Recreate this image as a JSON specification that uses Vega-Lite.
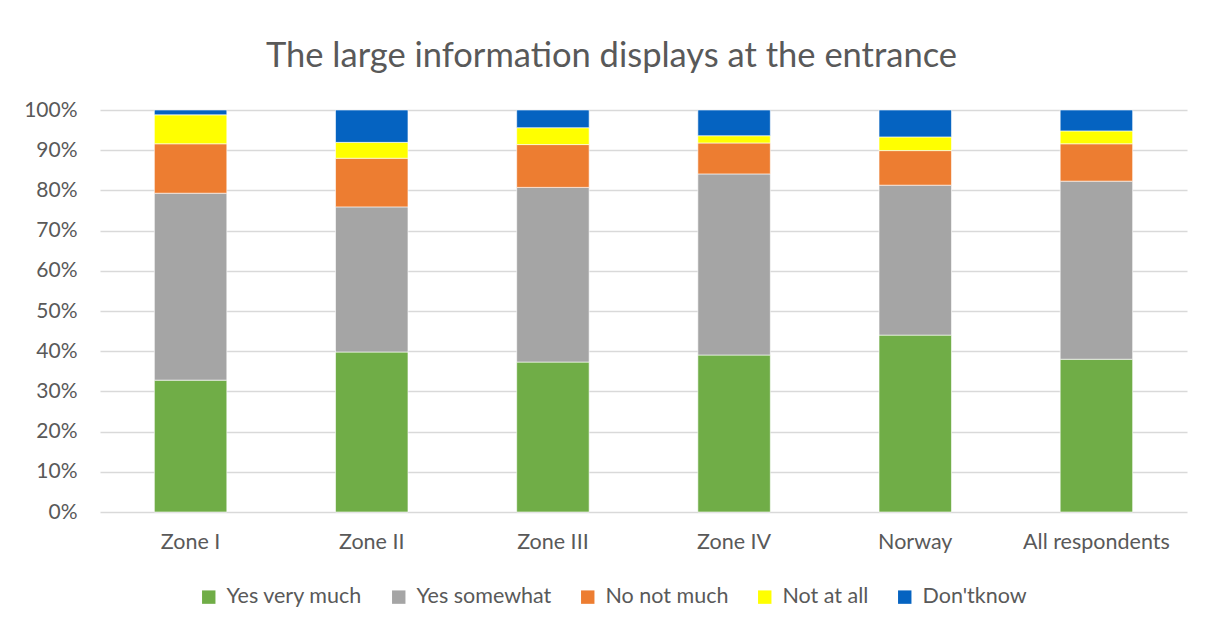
{
  "$schema": "https://vega.github.io/schema/vega-lite/v6.json",
  "width": 1087,
  "height": 402,
  "autosize": {"type": "none"},
  "padding": {"left": 100, "top": 110, "right": 19, "bottom": 116},
  "background": "white",
  "title": {
    "text": "The large information displays at the entrance",
    "fontSize": 34.5,
    "font": "Lato",
    "fontWeight": "normal",
    "color": "#595959",
    "anchor": "middle",
    "frame": "group",
    "dx": -32,
    "offset": 25
  },
  "data": {
    "values": [
      {"zone": "Zone I", "answer": "Yes very much", "o": 1, "pct": 32.8},
      {"zone": "Zone I", "answer": "Yes somewhat", "o": 2, "pct": 46.5},
      {"zone": "Zone I", "answer": "No not much", "o": 3, "pct": 12.3},
      {"zone": "Zone I", "answer": "Not at all", "o": 4, "pct": 7.2},
      {"zone": "Zone I", "answer": "Don'tknow", "o": 5, "pct": 1.2},
      {"zone": "Zone II", "answer": "Yes very much", "o": 1, "pct": 39.8},
      {"zone": "Zone II", "answer": "Yes somewhat", "o": 2, "pct": 36.1},
      {"zone": "Zone II", "answer": "No not much", "o": 3, "pct": 12.1},
      {"zone": "Zone II", "answer": "Not at all", "o": 4, "pct": 3.95},
      {"zone": "Zone II", "answer": "Don'tknow", "o": 5, "pct": 8.05},
      {"zone": "Zone III", "answer": "Yes very much", "o": 1, "pct": 37.3},
      {"zone": "Zone III", "answer": "Yes somewhat", "o": 2, "pct": 43.45},
      {"zone": "Zone III", "answer": "No not much", "o": 3, "pct": 10.65},
      {"zone": "Zone III", "answer": "Not at all", "o": 4, "pct": 4.2},
      {"zone": "Zone III", "answer": "Don'tknow", "o": 5, "pct": 4.4},
      {"zone": "Zone IV", "answer": "Yes very much", "o": 1, "pct": 39.05},
      {"zone": "Zone IV", "answer": "Yes somewhat", "o": 2, "pct": 45.05},
      {"zone": "Zone IV", "answer": "No not much", "o": 3, "pct": 7.7},
      {"zone": "Zone IV", "answer": "Not at all", "o": 4, "pct": 1.8},
      {"zone": "Zone IV", "answer": "Don'tknow", "o": 5, "pct": 6.4},
      {"zone": "Norway", "answer": "Yes very much", "o": 1, "pct": 44.0},
      {"zone": "Norway", "answer": "Yes somewhat", "o": 2, "pct": 37.3},
      {"zone": "Norway", "answer": "No not much", "o": 3, "pct": 8.6},
      {"zone": "Norway", "answer": "Not at all", "o": 4, "pct": 3.4},
      {"zone": "Norway", "answer": "Don'tknow", "o": 5, "pct": 6.7},
      {"zone": "All respondents", "answer": "Yes very much", "o": 1, "pct": 38.0},
      {"zone": "All respondents", "answer": "Yes somewhat", "o": 2, "pct": 44.3},
      {"zone": "All respondents", "answer": "No not much", "o": 3, "pct": 9.3},
      {"zone": "All respondents", "answer": "Not at all", "o": 4, "pct": 3.2},
      {"zone": "All respondents", "answer": "Don'tknow", "o": 5, "pct": 5.2}
    ]
  },
  "mark": {"type": "bar", "stroke": "white", "strokeWidth": 0.6},
  "encoding": {
    "x": {
      "field": "zone",
      "type": "nominal",
      "sort": ["Zone I", "Zone II", "Zone III", "Zone IV", "Norway", "All respondents"],
      "scale": {"paddingInner": 0.6, "paddingOuter": 0.3},
      "axis": {
        "title": null,
        "labelAngle": 0,
        "labelFont": "Lato",
        "labelFontSize": 21.5,
        "labelColor": "#595959",
        "labelPadding": 19,
        "labelOverlap": false,
        "ticks": false,
        "domain": false
      }
    },
    "y": {
      "field": "pct",
      "type": "quantitative",
      "stack": "normalize",
      "scale": {"domain": [0, 1]},
      "axis": {
        "title": null,
        "format": ".0%",
        "values": [0, 0.1, 0.2, 0.3, 0.4, 0.5, 0.6, 0.7, 0.8, 0.9, 1],
        "labelFont": "Lato",
        "labelFontSize": 21,
        "labelColor": "#595959",
        "labelPadding": 23,
        "labelOverlap": false,
        "ticks": false,
        "domain": false,
        "gridColor": "#D9D9D9",
        "gridWidth": 1.3
      }
    },
    "color": {
      "field": "answer",
      "type": "nominal",
      "sort": ["Yes very much", "Yes somewhat", "No not much", "Not at all", "Don'tknow"],
      "scale": {
        "domain": ["Yes very much", "Yes somewhat", "No not much", "Not at all", "Don'tknow"],
        "range": ["#70AD47", "#A5A5A5", "#ED7D31", "#FFFF00", "#0563C1"]
      },
      "legend": {
        "title": null,
        "orient": "none",
        "legendX": 98,
        "legendY": 476,
        "direction": "horizontal",
        "symbolType": "square",
        "symbolSize": 180,
        "symbolStrokeWidth": 0,
        "labelFont": "Lato",
        "labelFontSize": 21.5,
        "labelColor": "#595959",
        "columnPadding": 25,
        "labelOffset": 7
      }
    },
    "order": {"field": "o", "type": "quantitative", "sort": "ascending"}
  },
  "config": {
    "view": {"stroke": null}
  }
}
